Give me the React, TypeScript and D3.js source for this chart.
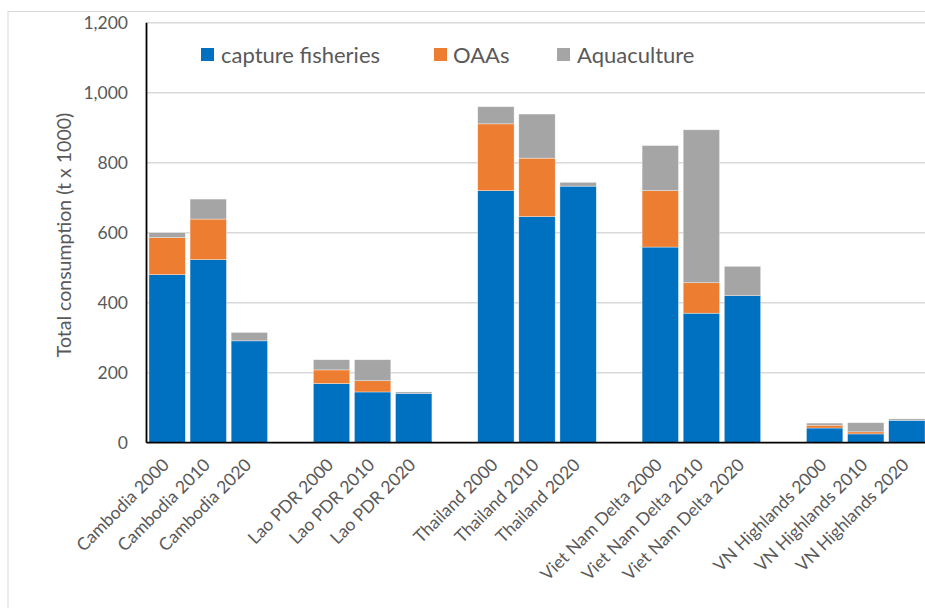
import React from "react";
import * as d3 from "d3";

const categories = [
  "Cambodia 2000", "Cambodia 2010", "Cambodia 2020", "",
  "Lao PDR 2000", "Lao PDR 2010", "Lao PDR 2020", " ",
  "Thailand 2000", "Thailand 2010", "Thailand 2020", "  ",
  "Viet Nam Delta 2000", "Viet Nam Delta 2010", "Viet Nam Delta 2020", "   ",
  "VN Highlands 2000", "VN Highlands 2010", "VN Highlands 2020",
];
const capture = [480, 523, 291, 0, 169, 145, 141, 0, 720, 646, 733, 0, 559, 370, 420, 0, 42, 25, 64];
const oaas = [106, 116, 0, 0, 39, 32, 0, 0, 191, 167, 0, 0, 161, 87, 0, 0, 8, 6, 0];
const aquaculture = [14, 57, 24, 0, 29, 60, 4, 0, 49, 126, 11, 0, 129, 437, 84, 0, 6, 26, 4];
const seriesNames = ["capture fisheries", "OAAs", "Aquaculture"];
const seriesColors = ["#0070C0", "#ED7D31", "#A5A5A5"];
const yTicks = [0, 200, 400, 600, 800, 1000, 1200];

const FONT = "Lato, 'Open Sans', sans-serif";

export default function App() {
  const left = 146.5, top = 22.7, bottom = 442.7, right = 927.5;
  const x = d3.scaleBand<string>().domain(categories).range([left, right]).paddingInner(0.115).paddingOuter(0.06);
  const y = d3.scaleLinear().domain([0, 1200]).range([bottom, top]);
  const rows = categories.map((c, i) => ({ cat: c, s0: capture[i], s1: oaas[i], s2: aquaculture[i] }));
  const stack = d3.stack<any>().keys(["s0", "s1", "s2"])(rows);
  const fmt = d3.format(",");

  return (
    <svg width={925} height={608} style={{ position: "absolute", left: 0, top: 0, background: "#fff" }}>
      <rect x={8} y={11.5} width={1000} height={700} fill="#fff" stroke="#D9D9D9" strokeWidth={1} />
      {yTicks.filter(t => t > 0).map(t => (
        <line key={t} x1={left} x2={right} y1={y(t)} y2={y(t)} stroke="#D9D9D9" strokeWidth={1.5} />
      ))}
      {yTicks.map(t => (
        <text key={"l" + t} x={128} y={y(t)} dy="0.35em" textAnchor="end" fontFamily={FONT} fontSize={17.5} fill="#595959">
          {fmt(t)}
        </text>
      ))}
      <text transform={`translate(70.5,235) rotate(-90)`} textAnchor="middle" fontFamily={FONT} fontSize={19.5} fill="#595959">
        Total consumption (t x 1000)
      </text>
      {stack.map((layer, si) => (
        <g key={si} fill={seriesColors[si]}>
          {layer.map((d, i) => {
            const h = y(d[0]) - y(d[1]);
            if (h <= 0) return null;
            return (
              <rect key={i} x={x(categories[i])} width={x.bandwidth()} y={y(d[1])} height={h}
                stroke="#fff" strokeOpacity={0.6} strokeWidth={0.6} />
            );
          })}
        </g>
      ))}
      <line x1={left} x2={left} y1={top} y2={bottom} stroke="#000" strokeWidth={1.8} />
      <line x1={left} x2={right} y1={bottom} y2={bottom} stroke="#000" strokeWidth={1.8} />
      {categories.map((c, i) => c.trim() === "" ? null : (
        <text key={"x" + i} transform={`translate(${(x(c) as number) + x.bandwidth() / 2 + 3},466) rotate(-45)`}
          textAnchor="end" fontFamily={FONT} fontSize={17.5} fill="#595959">
          {c}
        </text>
      ))}
      {[{ sx: 201, tx: 221 }, { sx: 434, tx: 453 }, { sx: 557, tx: 577 }].map((p, i) => (
        <g key={"lg" + i}>
          <rect x={p.sx} y={48} width={13} height={13} fill={seriesColors[i]} />
          <text x={p.tx} y={62.5} fontFamily={FONT} fontSize={22} fill="#595959">{seriesNames[i]}</text>
        </g>
      ))}
    </svg>
  );
}
